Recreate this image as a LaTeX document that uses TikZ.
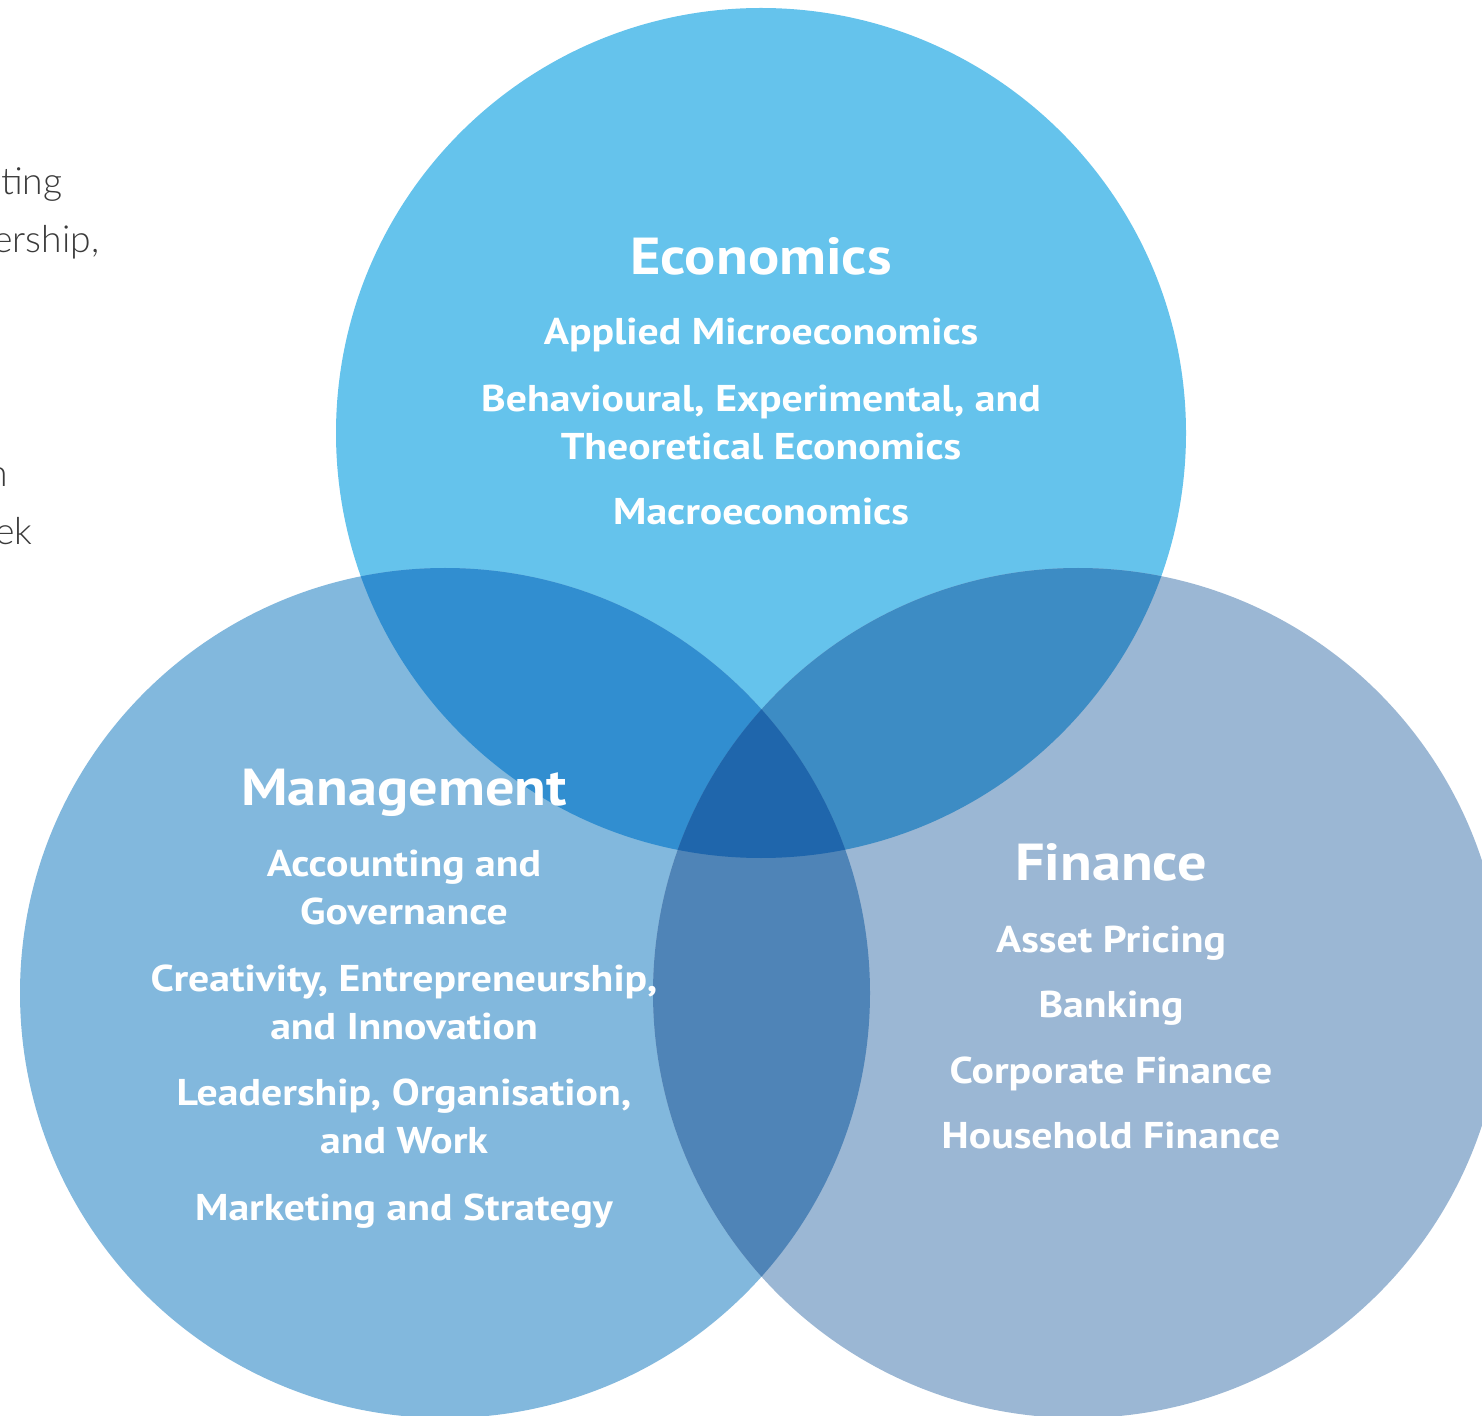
\documentclass[tikz,border=0pt]{standalone}
\usepackage{fontspec}
\setmainfont{PT Sans}
\newfontfamily\labelfont{PT Sans Bold}[FakeStretch=1.12]
\newfontfamily\lightfont{Lato Light}
\definecolor{econ}{HTML}{65C3EC}
\definecolor{mgmt}{HTML}{82B8DD}
\definecolor{fin}{HTML}{9BB7D4}
\definecolor{econmgmt}{HTML}{318ED0}
\definecolor{econfin}{HTML}{3D8CC4}
\definecolor{mgmtfin}{HTML}{4F84B7}
\definecolor{allthree}{HTML}{1F66AC}
\definecolor{sidetext}{HTML}{3A3A3A}
\tikzset{
  title/.style={text=white, font=\labelfont\fontsize{14.8}{17}\selectfont, anchor=base, inner sep=0pt},
  item/.style={text=white, font=\labelfont\fontsize{10.6}{13}\selectfont, anchor=base, inner sep=0pt},
  side/.style={text=sidetext, font=\lightfont\fontsize{10.6}{13}\selectfont, anchor=base east, inner sep=0pt}
}
\begin{document}
\begin{tikzpicture}[x=0.01cm, y=-0.01cm]
\useasboundingbox (0,0) rectangle (1482,1416);
\clip (0,0) rectangle (1482,1416);
\fill[white] (0,0) rectangle (1482,1416);
% circle centres
\coordinate (E) at (761,433);
\coordinate (M) at (445,993);
\coordinate (F) at (1078,993);
\def\rad{425}
% running text at the left margin, cut by the page edge
\node[side] (s1) at (63,195) {ting};
\node[side] (s2) at (100,253) {ership,};
\node[side] (s3) at (9,487) {n};
\node[side] (s4) at (33,545) {ek};
% single-set regions
\fill[econ] (E) circle (\rad);
\fill[mgmt] (M) circle (\rad);
\fill[fin] (F) circle (\rad);
% pairwise overlaps
\begin{scope}\clip (E) circle (\rad); \fill[econmgmt] (M) circle (\rad);\end{scope}
\begin{scope}\clip (E) circle (\rad); \fill[econfin] (F) circle (\rad);\end{scope}
\begin{scope}\clip (M) circle (\rad); \fill[mgmtfin] (F) circle (\rad);\end{scope}
% triple overlap
\begin{scope}\clip (E) circle (\rad); \clip (M) circle (\rad); \fill[allthree] (F) circle (\rad);\end{scope}
% Economics
\node[title] (econT) at (761,275) {Economics};
\node[item] (e1) at (761,345) {Applied Microeconomics};
\node[item] (e2a) at (761,412) {Behavioural, Experimental, and};
\node[item] (e2b) at (761,460) {Theoretical Economics};
\node[item] (e3) at (761,525) {Macroeconomics};
% Management
\node[title] (mgmtT) at (404,805) {Management};
\node[item] (m1a) at (404,876) {Accounting and};
\node[item] (m1b) at (404,924) {Governance};
\node[item] (m2a) at (404,991) {Creativity, Entrepreneurship,};
\node[item] (m2b) at (404,1039) {and Innovation};
\node[item] (m3a) at (404,1105) {Leadership, Organisation,};
\node[item] (m3b) at (404,1153) {and Work};
\node[item] (m4) at (404,1220) {Marketing and Strategy};
% Finance
\node[title] (finT) at (1111,880) {Finance};
\node[item] (f1) at (1111,952) {Asset Pricing};
\node[item] (f2) at (1111,1017) {Banking};
\node[item] (f3) at (1111,1083) {Corporate Finance};
\node[item] (f4) at (1111,1148) {Household Finance};
\end{tikzpicture}
\end{document}
